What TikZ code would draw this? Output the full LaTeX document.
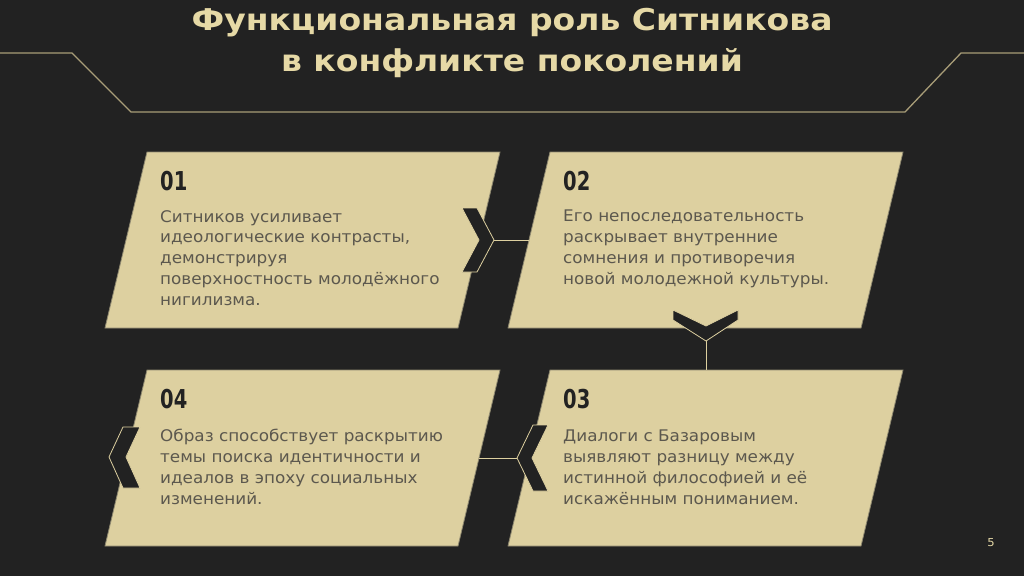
\documentclass[tikz,border=0pt]{standalone}
\usepackage{fontspec}
\setmainfont{DejaVu Sans}
\newfontfamily\titlefont[FakeStretch=1.1]{DejaVu Sans}
\newfontfamily\numfont[FakeStretch=0.75]{DejaVu Sans}
\newfontfamily\bodyfont[FakeStretch=1.05]{DejaVu Sans}
\definecolor{bg}{HTML}{222222}
\definecolor{card}{HTML}{DDD0A0}
\definecolor{cardline}{HTML}{8E8870}
\definecolor{gold}{HTML}{E6D9A6}
\definecolor{hline}{HTML}{A89D78}
\definecolor{body}{HTML}{5C584E}
\definecolor{numc}{HTML}{222222}
\tikzset{
  cardbox/.style={fill=card, draw=cardline, line width=0.8pt},
  chev/.style={fill=bg, draw=card, line width=0.8pt, line join=miter},
  link/.style={draw=card, line width=0.9pt},
  numtxt/.style={anchor=base west, inner sep=0pt, text=numc, font=\numfont\bfseries\fontsize{26}{26}\selectfont},
  bodytxt/.style={anchor=base west, inner sep=0pt, align=left, text=body, font=\bodyfont\fontsize{16}{20.7}\selectfont},
  titletxt/.style={anchor=base, inner sep=0pt, text=gold, font=\titlefont\bfseries\fontsize{30}{30}\selectfont},
}
\begin{document}
\begin{tikzpicture}[x=1pt,y=-1pt]
\useasboundingbox[fill=bg] (0,0) rectangle (1024,576);
% header line
\draw[hline, line width=1.3pt] (0,53) -- (72,53) -- (131,112) -- (905,112) -- (961,53) -- (1024,53);
% title
\node[titletxt] (t1) at (512,30) {Функциональная роль Ситникова};
\node[titletxt] (t2) at (512,71) {в конфликте поколений};
% cards
\fill[cardbox] (147,152) -- (500,152) -- (458,328) -- (105,328) -- cycle;
\fill[cardbox] (550,152) -- (903,152) -- (861,328) -- (508,328) -- cycle;
\fill[cardbox] (550,370) -- (903,370) -- (861,546) -- (508,546) -- cycle;
\fill[cardbox] (147,370) -- (500,370) -- (458,546) -- (105,546) -- cycle;
% connector points
\coordinate (tip1) at (494,240);
\coordinate (e2) at (529,240);
\coordinate (tip2) at (706,341);
\coordinate (e3) at (706,370);
\coordinate (tip3) at (517,458);
\coordinate (e4) at (479,458);
% connectors
\draw[link] (tip1) -- (e2);
\draw[link] (tip2) -- (e3);
\draw[link] (tip3) -- (e4);
% chevrons
\filldraw[chev] (462,208) -- (477,208) -- (tip1) -- (477,272) -- (462,272) -- (479,240) -- cycle;
\filldraw[chev] (673,310) -- (706,326) -- (738,310) -- (738,320) -- (tip2) -- (673,320) -- cycle;
\filldraw[chev] (533,425) -- (548,425) -- (532,458) -- (548,491) -- (533,491) -- (tip3) -- cycle;
\filldraw[chev] (123,427) -- (140,427) -- (126,457) -- (140,488) -- (123,488) -- (109,457) -- cycle;
% numbers
\node[numtxt] (n1) at (160,190) {01};
\node[numtxt] (n2) at (563,190) {02};
\node[numtxt] (n3) at (563,408) {03};
\node[numtxt] (n4) at (160,408) {04};
% texts (anchored at the baseline of the last line)
\node[bodytxt] (b1) at (160,305) {Ситников усиливает\\идеологические контрасты,\\демонстрируя\\поверхностность молодёжного\\нигилизма.};
\node[bodytxt] (b2) at (563,284) {Его непоследовательность\\раскрывает внутренние\\сомнения и противоречия\\новой молодежной культуры.};
\node[bodytxt] (b3) at (563,504) {Диалоги с Базаровым\\выявляют разницу между\\истинной философией и её\\искажённым пониманием.};
\node[bodytxt] (b4) at (160,504) {Образ способствует раскрытию\\темы поиска идентичности и\\идеалов в эпоху социальных\\изменений.};
% page number
\node[inner sep=0pt, text=gold, font=\bodyfont\fontsize{11}{11}\selectfont] (pg) at (991,543) {5};
\end{tikzpicture}
\end{document}
